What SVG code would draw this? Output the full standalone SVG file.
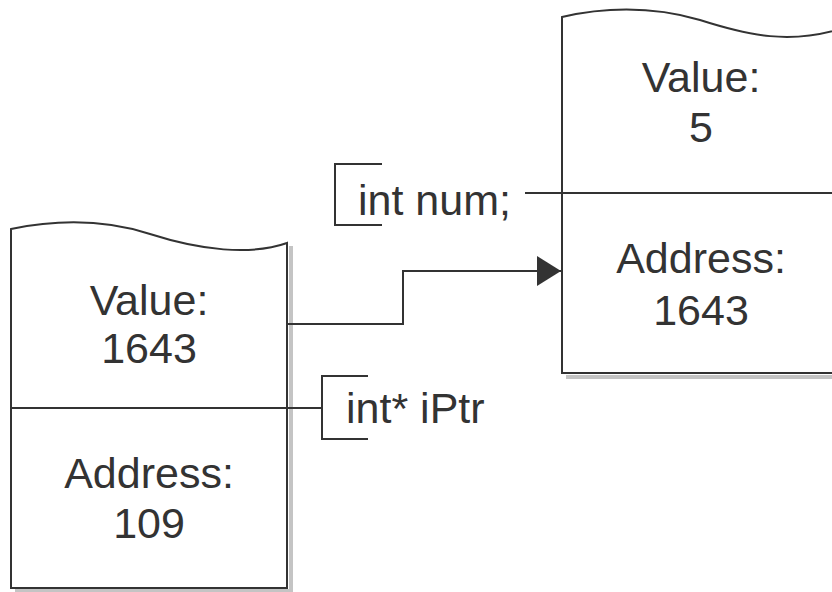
<svg xmlns="http://www.w3.org/2000/svg" width="832" height="592" viewBox="0 0 832 592">
<style>
.line{fill:none;stroke:#333;stroke-width:2}
.box{fill:#fff;stroke:#333;stroke-width:2}
.shadow{fill:none;stroke:#c4c4c4;stroke-width:4}
.t{font-family:"Liberation Sans",Arial,Helvetica,sans-serif;font-size:43px;fill:#333}
.c{text-anchor:middle}
</style>
<defs>
<marker id="arrow" viewBox="0 0 24 30" refX="24" refY="15" markerWidth="24" markerHeight="30" markerUnits="userSpaceOnUse" orient="auto">
<path d="M0,0 L24,15 L0,30 Z" fill="#333"/>
</marker>
</defs>
<rect width="832" height="592" fill="#fff"/>
<g id="node-iptr">
<polyline class="shadow" points="291,246 291,591 15,591"/>
<path class="box" d="M11,229 C50,221 100,218 150,234 C200,250 250,256 287,243 L287,588 L11,588 Z"/>
<line class="line" x1="11" y1="408" x2="287" y2="408"/>
<text class="t c" x="149" y="315">Value:</text>
<text class="t c" x="149" y="363">1643</text>
<text class="t c" x="149" y="488">Address:</text>
<text class="t c" x="149" y="538">109</text>
</g>
<g id="node-num">
<polyline class="shadow" points="566,377 840,377"/>
<path class="box" d="M562,17 C600,8 650,5 700,20 C750,36 790,44 840,29 L840,373 L562,373 Z"/>
<line class="line" x1="562" y1="193" x2="840" y2="193"/>
<text class="t c" x="701" y="92">Value:</text>
<text class="t c" x="701" y="142">5</text>
<text class="t c" x="701" y="273">Address:</text>
<text class="t c" x="701" y="325">1643</text>
</g>
<g id="label-num">
<polyline class="line" points="382,164 335,164 335,225 382,225"/>
<text class="t" x="358" y="215">int num;</text>
</g>
<g id="label-iptr">
<polyline class="line" points="368,376 322,376 322,439 368,439"/>
<text class="t" x="346" y="423">int* iPtr</text>
</g>
<g id="connectors">
<line class="line" x1="525" y1="193" x2="562" y2="193"/>
<line class="line" x1="287" y1="408" x2="322" y2="408"/>
<polyline class="line" points="287,324 403,324 403,271 561,271" marker-end="url(#arrow)"/>
</g>
</svg>
